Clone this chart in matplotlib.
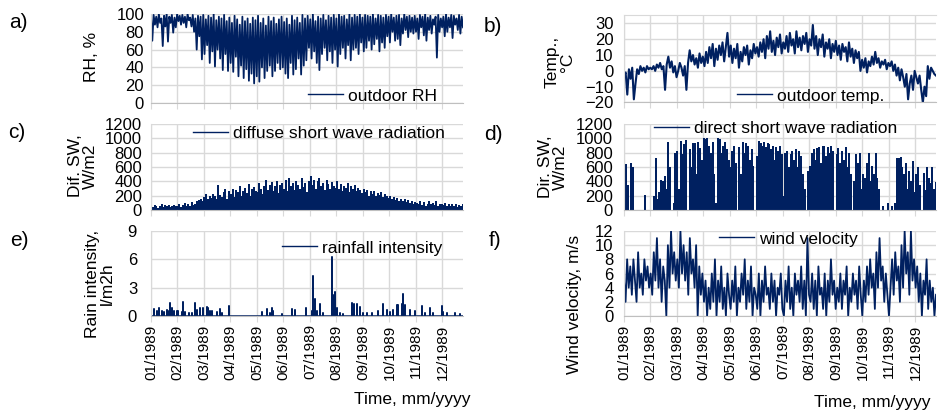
import numpy as np
import matplotlib
matplotlib.use("Agg")
import matplotlib.pyplot as plt
from matplotlib.lines import Line2D

plt.rcParams['font.family'] = ['Liberation Sans', 'DejaVu Sans']

# ---------------- data ----------------
HOURS = 8760
month_ticks = [0, 744, 1488, 2232, 2976, 3720, 4464, 5208, 5952, 6696, 7440, 8184]
month_labels = ["01/1989", "02/1989", "03/1989", "04/1989", "05/1989", "06/1989",
                "07/1989", "08/1989", "09/1989", "10/1989", "11/1989", "12/1989"]

# outdoor RH: daily-cycle highs and lows (alternating), %
rh_high = [96, 99, 97, 100, 95, 98, 100, 97, 99, 96,
           100, 98, 99, 97, 100, 96, 99, 95, 98, 97,
           99, 94, 98, 96, 100, 93, 97, 95, 99, 92,
           96, 90, 98, 94, 88, 97, 92, 95, 89, 96,
           93, 98, 90, 95, 87, 97, 92, 96, 89, 94,
           97, 91, 95, 88, 98, 93, 96, 90, 99, 95,
           98, 94, 100, 92, 97, 95, 99, 93, 98, 96,
           99, 95, 100, 97, 98, 94, 100, 96, 99, 97,
           100, 96, 99, 98, 97, 100, 95, 99, 98, 96,
           99, 97, 100, 96, 98, 99, 95, 100, 97, 98, 96,
           98, 95, 99, 97, 100, 96, 98, 94, 97, 99, 95,
           97, 100, 96, 99, 98, 95, 99, 97]
rh_low = [70, 88, 85, 90, 64, 86, 69, 90, 79, 85,
          92, 88, 90, 85, 93, 86, 80, 60, 75, 49,
          55, 65, 45, 58, 41, 60, 50, 37, 55, 36,
          45, 35, 52, 30, 42, 28, 38, 25, 33, 22,
          30, 24, 40, 28, 36, 42, 30, 36, 45, 38,
          40, 33, 28, 45, 32, 38, 50, 32, 42, 48,
          62, 50, 58, 45, 37, 55, 62, 48, 58, 45,
          60, 41, 55, 62, 50, 65, 48, 60, 62, 55,
          68, 58, 62, 70, 60, 66, 72, 58, 68, 62,
          75, 68, 80, 70, 72, 65, 78, 82, 74, 80, 78,
          80, 72, 85, 76, 70, 82, 78, 88, 51, 80, 85,
          75, 80, 85, 73, 88, 82, 78, 85]

# outdoor temperature, degC
temp = [-3, -1, -15, 1, -5, 2, -18, -8, 1, -2, 3, 0, 2, -1, 3, 1, 2,
        1, 3, 0, 4, 2, 5, 1, 3, -12, 4, 9, 2, 6, -1, 3, -4,
        0, 5, 2, -3, 3, -12, 5, 13, 6, 10, 4, 8, 2, 11, 5, 9, 3,
        12, 5, 15, 8, 17, 3, 14, 7, 16, 10, 18, 6, 15, 24, 9, 16,
        5, 14, 8, 17, 2, 12, 6, 15, 10, 16, 4, 13, 8, 17, 11, 15,
        9, 18, 12, 20, 8, 22, 14, 25, 12, 19, 10, 21, 15, 23, 11, 18,
        14, 22, 12, 24, 16, 20, 11, 25, 15, 21, 13, 22, 17, 24, 12, 20,
        16, 29, 14, 22, 10, 20, 15, 23, 9, 18, 14, 20, 8, 17, 12, 19,
        10, 16, 7, 17, 12, 15, 6, 18, 9, 14, 5, 13, 8, 12, 0, 7,
        2, 8, -1, 6, 3, 9, 4, 12, 5, 8, 2, 6, 4, 7, 1, 5,
        3, 6, 0, 4, -3, 2, -6, 1, -4, -10, -2, -18, -8, -3, -12, 0,
        -4, -8, -3, -12, -20, -10, -16, 3, -5, 2, 0, -2, -3]

# diffuse short wave radiation, peaks, W/m2
dif_sw = [90, 40, 70, 55, 30, 60, 80, 45, 65, 50, 70, 35, 60, 75, 50,
          60, 85, 45, 70, 100, 55, 80, 60, 110, 75, 90, 120, 140, 160, 130,
          180, 220, 150, 200, 170, 230, 190, 150, 350, 210, 180, 250, 300, 160, 270,
          220, 300, 180, 280, 250, 330, 200, 270, 310, 240, 360, 200, 290, 320, 260,
          250, 370, 300, 220, 340, 420, 280, 350, 390, 260, 330, 400, 240, 350, 380,
          300, 420, 260, 450, 340, 380, 280, 410, 350, 300, 440, 320, 380, 250, 400,
          480, 350, 420, 300, 400, 450, 330, 380, 280, 420, 360, 300, 390, 340, 310,
          400, 300, 360, 270, 340, 310, 380, 250, 330, 290, 350, 260, 310, 280, 240,
          300, 250, 280, 200, 270, 230, 260, 190, 240, 210, 250, 180, 220, 200, 170,
          200, 160, 180, 140, 170, 120, 150, 130, 160, 110, 140, 100, 120, 90, 110,
          100, 80, 120, 70, 110, 60, 90, 130, 80, 100, 70, 120, 60, 90, 80,
          70, 100, 60, 90, 50, 80, 60, 90, 40, 70, 60, 80]

# direct short wave radiation, peaks, W/m2
dir_sw = [0, 640, 350, 0, 650, 600, 0, 0, 0, 0, 0, 0, 210, 0, 0,
          0, 0, 200, 730, 150, 250, 420, 400, 470, 300, 950, 600, 0, 100, 800,
          830, 300, 960, 780, 920, 980, 0, 850, 600, 930, 940, 500, 950, 870, 700,
          1000, 990, 1000, 900, 800, 950, 500, 100, 1000, 990, 800, 900, 950, 850, 700,
          600, 820, 900, 650, 0, 880, 500, 950, 800, 930, 900, 700, 850, 620, 0,
          750, 960, 940, 900, 950, 880, 930, 920, 850, 900, 700, 880, 820, 900, 780,
          200, 800, 820, 600, 780, 820, 700, 850, 600, 820, 750, 500, 300, 0, 550,
          620, 800, 850, 700, 870, 880, 650, 890, 900, 750, 880, 800, 900, 820, 0,
          780, 860, 650, 820, 700, 880, 600, 800, 500, 0, 400, 780, 650, 800, 300,
          500, 450, 650, 800, 400, 620, 500, 800, 450, 300, 0, 50, 0, 0, 100,
          0, 60, 0, 100, 720, 730, 740, 600, 500, 650, 300, 550, 400, 680, 250,
          500, 600, 350, 0, 520, 280, 600, 450, 380, 600, 300, 390]

# rainfall intensity events: hour of year and intensity, l/m2h
rain_hours = [84, 159, 234, 300, 365, 440, 487, 533, 580, 646, 721, 767, 861, 908, 955,
              1076, 1142, 1235, 1282, 1376, 1469, 1563, 1610, 1657, 1703, 1844, 1937, 1984, 2199,
              3107, 3248, 3341, 3388, 3435, 3669, 3950, 4043, 4352,
              4511, 4558, 4605, 4651, 4745, 4839, 5073, 5119, 5166, 5213, 5307, 5400,
              5634, 5700, 5775, 5868, 5962, 6055, 6196, 6383, 6523, 6617, 6710, 6804, 6898,
              6944, 7038, 7085, 7132, 7272, 7412, 7600, 7693, 7833, 7927, 8161, 8208, 8301,
              8535, 8676]
rain_values = [0.7, 0.5, 0.8, 0.5, 0.4, 0.6, 0.5, 1.4, 0.8, 0.5, 0.5, 0.5, 0.4, 1.5, 0.4,
               0.3, 0.3, 1.4, 0.6, 0.8, 0.9, 1.0, 0.8, 0.5, 0.5, 0.4, 0.7, 0.3, 1.1,
               0.4, 0.7, 0.3, 0.8, 0.5, 0.2, 0.7, 0.6, 0.8,
               0.5, 4.2, 1.8, 0.5, 1.3, 0.3, 6.2, 2.2, 2.5, 0.8, 0.3, 0.2,
               1.4, 1.3, 1.3, 1.0, 0.3, 0.3, 0.3, 0.5, 1.3, 0.6, 0.4, 0.6, 1.2,
               1.2, 1.3, 2.3, 1.2, 0.6, 0.5, 1.1, 0.3, 0.8, 0.3, 1.1, 0.4, 0.3,
               0.3, 0.2]

# wind velocity, m/s
wind = [5, 2, 8, 4, 7, 3, 8, 5, 2, 9, 4, 6, 3, 8, 5, 7, 4,
        6, 3, 9, 5, 11, 4, 8, 2, 7, 5, 0, 10, 4, 12, 6, 9, 5,
        8, 4, 12, 6, 10, 5, 9, 3, 11, 6, 8, 4, 10, 0, 7, 3, 6,
        2, 5, 0, 4, 1, 6, 2, 8, 0, 5, 2, 7, 1, 4, 0, 6, 3,
        1, 5, 2, 7, 0, 4, 2, 6, 3, 8, 1, 5, 2, 7, 0, 4, 3,
        1, 6, 0, 5, 2, 7, 3, 4, 1, 6, 2, 5, 0, 4, 3, 6, 1,
        0, 5, 2, 7, 1, 4, 0, 6, 3, 5, 2, 7, 1, 5, 0, 11, 3,
        2, 6, 1, 5, 0, 7, 3, 4, 1, 6, 0, 5, 2, 8, 3, 5, 1,
        4, 2, 6, 1, 5, 3, 7, 0, 4, 2, 6, 3, 5, 1, 7, 3, 0,
        5, 2, 7, 3, 8, 4, 6, 1, 9, 4, 11, 5, 7, 2, 6, 3, 0,
        4, 8, 3, 9, 5, 7, 2, 10, 4, 12, 6, 9, 3, 12, 5, 8, 4,
        7, 2, 6, 0, 5, 3, 8, 1, 5, 2, 4, 0, 3]

# ---------------- drawing ----------------
NAVY = '#002060'
GRID = '#d9d9d9'
W, H = 940, 411

fig = plt.figure(figsize=(W / 100, H / 100), dpi=100)


def add_ax(x0, x1, ytop, ybot):
    return fig.add_axes([x0 / W, 1 - ybot / H, (x1 - x0) / W, (ybot - ytop) / H])


def style(ax, ylim, yticks, ypad, show_x):
    ax.set_xlim(0, HOURS)
    ax.set_ylim(*ylim)
    ax.set_xticks(month_ticks)
    ax.set_yticks(yticks)
    ax.grid(True, color=GRID, lw=1.0)
    ax.set_axisbelow(True)
    ax.spines['top'].set_visible(False)
    ax.spines['right'].set_visible(False)
    ax.spines['left'].set_color(GRID)
    ax.spines['bottom'].set_color('#bfbfbf')
    ax.tick_params(axis='y', length=0, pad=ypad, labelsize=12)
    ax.tick_params(axis='x', length=4, color=GRID, direction='out', pad=2)
    if show_x:
        ax.set_xticklabels(month_labels, rotation=90, fontsize=11)
    else:
        ax.set_xticklabels([])


def legend(ax, label, x, y):
    h = Line2D([], [], color=NAVY, lw=1.0)
    ax.legend([h], [label], loc='center left', bbox_to_anchor=(x, y), frameon=False,
              borderpad=0, borderaxespad=0, handlelength=2.0,
              handletextpad=0.3, fontsize=12.5)


# a) RH
axa = add_ax(151, 463, 14, 103)
rh = np.column_stack([rh_high, rh_low]).ravel()
axa.plot(np.linspace(0, HOURS, len(rh)), rh, color=NAVY, lw=1.3)
style(axa, (0, 100), [0, 20, 40, 60, 80, 100], 5, False)
legend(axa, 'outdoor RH', 0.503, 0.079)

# b) temperature
axb = add_ax(624, 936, 15.5, 102.5)
axb.plot(np.linspace(0, HOURS, len(temp)), temp, color=NAVY, lw=1.5)
style(axb, (-20, 35), [-20, -10, 0, 10, 20, 30], 7.5, False)
axb.spines['top'].set_visible(True)
axb.spines['top'].set_color(GRID)
legend(axb, 'outdoor temp.', 0.362, 0.075)

# c) diffuse SW
axc = add_ax(151, 463, 124, 210)
axc.vlines(np.linspace(0, HOURS, len(dif_sw)), 0, dif_sw, color=NAVY, lw=1.4,
           antialiased=False)
style(axc, (0, 1200), list(range(0, 1201, 200)), 6.5, False)
legend(axc, 'diffuse short wave radiation', 0.135, 0.895)

# d) direct SW
axd = add_ax(624, 936, 124, 210)
axd.vlines(np.linspace(0, HOURS, len(dir_sw)), 0, dir_sw, color=NAVY, lw=1.12,
           antialiased=False)
style(axd, (0, 1200), list(range(0, 1201, 200)), 8, False)
legend(axd, 'direct short wave radiation', 0.096, 0.953)

# e) rainfall
axe = add_ax(151, 463, 231, 316)
rx, ry = [0], [0]
for t, v in zip(rain_hours, rain_values):
    rx += [t, t, t]
    ry += [0, v, 0]
rx.append(HOURS)
ry.append(0)
axe.plot(rx, ry, color=NAVY, lw=1.1)
style(axe, (0, 9), [0, 3, 6, 9], 10, True)
legend(axe, 'rainfall intensity', 0.42, 0.80)

# f) wind
axf = add_ax(624, 936, 231, 316)
axf.plot(np.linspace(0, HOURS, len(wind)), wind, color=NAVY, lw=1.3)
style(axf, (0, 12), [0, 2, 4, 6, 8, 10, 12], 7.5, True)
legend(axf, 'wind velocity', 0.304, 0.906)

# axis titles
def ftext(x, y, s, **kw):
    fig.text(x / W, 1 - y / H, s, **kw)

lab = dict(rotation=90, ha='center', va='center', fontsize=12.5, multialignment='center',
           linespacing=1.0)
ftext(92, 57, 'RH, %', **lab)
ftext(560, 62, 'Temp.,\n°C', **lab)
ftext(83, 166, 'Dif. SW,\nW/m2', **lab)
ftext(553, 167, 'Dir. SW,\nW/m2', **lab)
ftext(100, 284, 'Rain intensity,\nl/m2h', **lab)
ftext(574, 304, 'Wind velocity, m/s', **lab)

ftext(412, 399, 'Time, mm/yyyy', ha='center', va='center', fontsize=12.5)
ftext(872, 402, 'Time, mm/yyyy', ha='center', va='center', fontsize=12.5)

pl = dict(ha='center', va='center', fontsize=15)
ftext(18, 22, 'a)', **pl)
ftext(493, 26, 'b)', **pl)
ftext(17, 133, 'c)', **pl)
ftext(493, 134, 'd)', **pl)
ftext(19, 240, 'e)', **pl)
ftext(495, 240, 'f)', **pl)

fig.savefig('out.png', dpi=100)
